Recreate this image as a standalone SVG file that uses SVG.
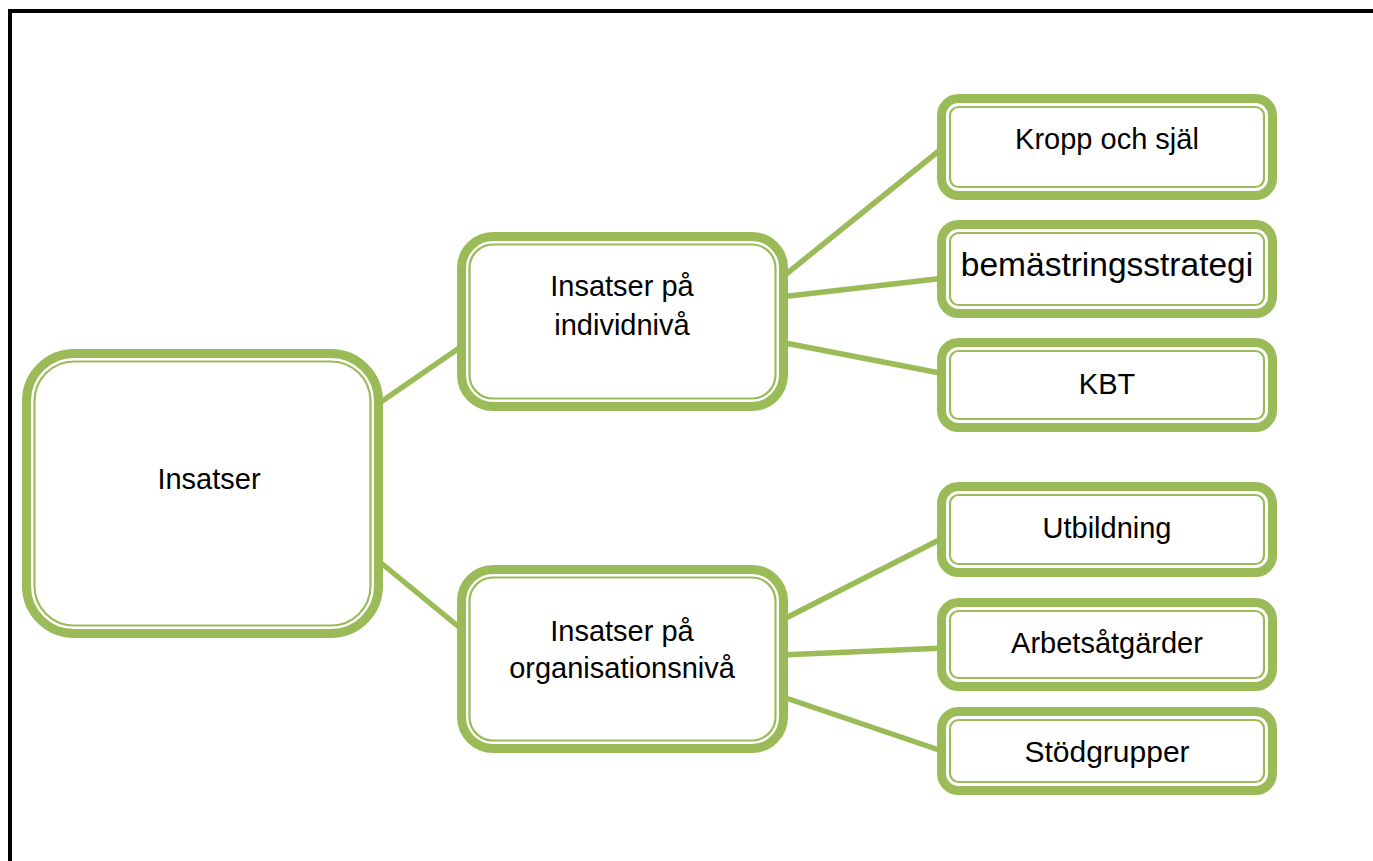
<svg xmlns="http://www.w3.org/2000/svg" width="1373" height="861" viewBox="0 0 1373 861">
<style>
.outer{fill:#fff;stroke:#9BBB59;stroke-width:9}
.inner{fill:none;stroke:#9BBB59;stroke-width:2.2}
.conn line{stroke:#9BBB59;stroke-width:5.5;stroke-linecap:butt}
text{font-family:"Liberation Sans",Arial,sans-serif;font-size:29px;fill:#000;text-anchor:middle}
</style>
<rect x="0" y="0" width="1373" height="861" fill="#fff"/>
<rect x="10" y="11" width="1400" height="900" fill="none" stroke="#000" stroke-width="4"/>
<g id="connectors" class="conn">
<line x1="375" y1="406" x2="465" y2="344"/>
<line x1="375" y1="558" x2="465" y2="632"/>
<line x1="780" y1="279" x2="945" y2="146"/>
<line x1="780" y1="297" x2="945" y2="278"/>
<line x1="780" y1="342" x2="945" y2="374"/>
<line x1="780" y1="621" x2="945" y2="537"/>
<line x1="780" y1="655" x2="945" y2="648"/>
<line x1="780" y1="696" x2="945" y2="752"/>
</g>
<g id="root">
<rect class="outer" x="26.5" y="353.5" width="352" height="280" rx="47.5"/>
<rect class="inner" x="34.5" y="361.5" width="336" height="264" rx="39.5"/>
<text x="209" y="489">Insatser</text>
</g>
<g id="mid-individ">
<rect class="outer" x="461.5" y="236.5" width="322" height="170" rx="31.5"/>
<rect class="inner" x="469.5" y="244.5" width="306" height="154" rx="23.5"/>
<text x="622" y="296">Insatser på</text>
<text x="622" y="335">individnivå</text>
</g>
<g id="mid-org">
<rect class="outer" x="461.5" y="569.5" width="322" height="179" rx="31.5"/>
<rect class="inner" x="469.5" y="577.5" width="306" height="163" rx="23.5"/>
<text x="622" y="641">Insatser på</text>
<text x="622" y="678">organisationsnivå</text>
</g>
<g id="leaf-kropp">
<rect class="outer" x="941.5" y="98.5" width="331" height="97" rx="17"/>
<rect class="inner" x="950" y="107" width="314" height="80" rx="8.5"/>
<text x="1107" y="149">Kropp och själ</text>
</g>
<g id="leaf-bem">
<rect class="outer" x="941.5" y="224.5" width="331" height="89" rx="17"/>
<rect class="inner" x="950" y="233" width="314" height="72" rx="8.5"/>
<text x="1107" y="276" style="font-size:33.5px">bemästringsstrategi</text>
</g>
<g id="leaf-kbt">
<rect class="outer" x="941.5" y="342.5" width="331" height="85" rx="17"/>
<rect class="inner" x="950" y="351" width="314" height="68" rx="8.5"/>
<text x="1107" y="394">KBT</text>
</g>
<g id="leaf-utb">
<rect class="outer" x="941.5" y="486.5" width="331" height="86" rx="17"/>
<rect class="inner" x="950" y="495" width="314" height="69" rx="8.5"/>
<text x="1107" y="538">Utbildning</text>
</g>
<g id="leaf-arb">
<rect class="outer" x="941.5" y="602.5" width="331" height="84" rx="17"/>
<rect class="inner" x="950" y="611" width="314" height="67" rx="8.5"/>
<text x="1107" y="653">Arbetsåtgärder</text>
</g>
<g id="leaf-stod">
<rect class="outer" x="941.5" y="711.5" width="331" height="79" rx="17"/>
<rect class="inner" x="950" y="720" width="314" height="62" rx="8.5"/>
<text x="1107" y="762" style="font-size:30px">Stödgrupper</text>
</g>
</svg>
